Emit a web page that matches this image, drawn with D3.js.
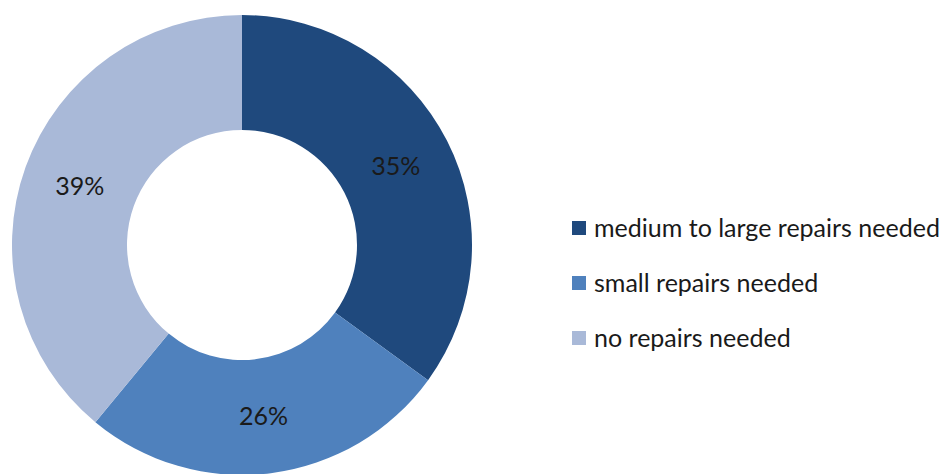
<!DOCTYPE html>
<html>
<head>
<meta charset="utf-8">
<script src="https://cdn.jsdelivr.net/npm/d3@7"></script>
<style>
  html, body { margin: 0; padding: 0; background: #fff; }
  svg { display: block; }
  text { font-family: Lato, "Open Sans", "Liberation Sans", sans-serif; fill: #1a1a1a; }
</style>
</head>
<body>
<svg id="chart" width="945" height="474"></svg>
<script>
// Condition of repairs: share of each category
const categories = ["medium to large repairs needed", "small repairs needed", "no repairs needed"];
const shares = [35, 26, 39];
const colors = ["#1F497D", "#4F81BD", "#A9B9D8"];

const width = 945, height = 474;
const cx = 242, cy = 245;
const outerR = 230, innerR = 115;

const svg = d3.select("#chart");

const data = categories.map((c, i) => ({ name: c, value: shares[i], color: colors[i] }));

const pie = d3.pie().value(d => d.value).sort(null);
const arc = d3.arc().innerRadius(innerR).outerRadius(outerR);

const g = svg.append("g").attr("transform", `translate(${cx},${cy})`);
const arcs = pie(data);

g.selectAll("path.slice")
  .data(arcs)
  .join("path")
  .attr("class", "slice")
  .attr("d", arc)
  .attr("fill", d => d.data.color);

const fontSize = 21;

g.selectAll("text.pct")
  .data(arcs)
  .join("text")
  .attr("class", "pct")
  .attr("transform", d => `translate(${arc.centroid(d)})`)
  .attr("text-anchor", "middle")
  .attr("dy", "0.35em")
  .style("font-size", fontSize + "px")
  .text(d => d.data.value + "%");

// Legend
const legend = svg.append("g").attr("transform", "translate(572,221)");
const rowGap = 55;
const items = legend.selectAll("g.item")
  .data(data)
  .join("g")
  .attr("class", "item")
  .attr("transform", (d, i) => `translate(0,${i * rowGap})`);

items.append("rect")
  .attr("width", 14)
  .attr("height", 14)
  .attr("fill", d => d.color);

const labels = items.append("text")
  .attr("x", 22)
  .attr("y", 7)
  .attr("dy", "0.35em")
  .style("font-size", fontSize + "px")
  .text(d => d.name);

// Scale the legend font so the longest label spans its intended width
const longest = labels.filter((d, i) => i === 0).node();
const w = longest.getComputedTextLength();
const target = 346;
const fitted = fontSize * target / w;
labels.style("font-size", fitted + "px");
g.selectAll("text.pct").style("font-size", fitted + "px");
</script>
</body>
</html>
